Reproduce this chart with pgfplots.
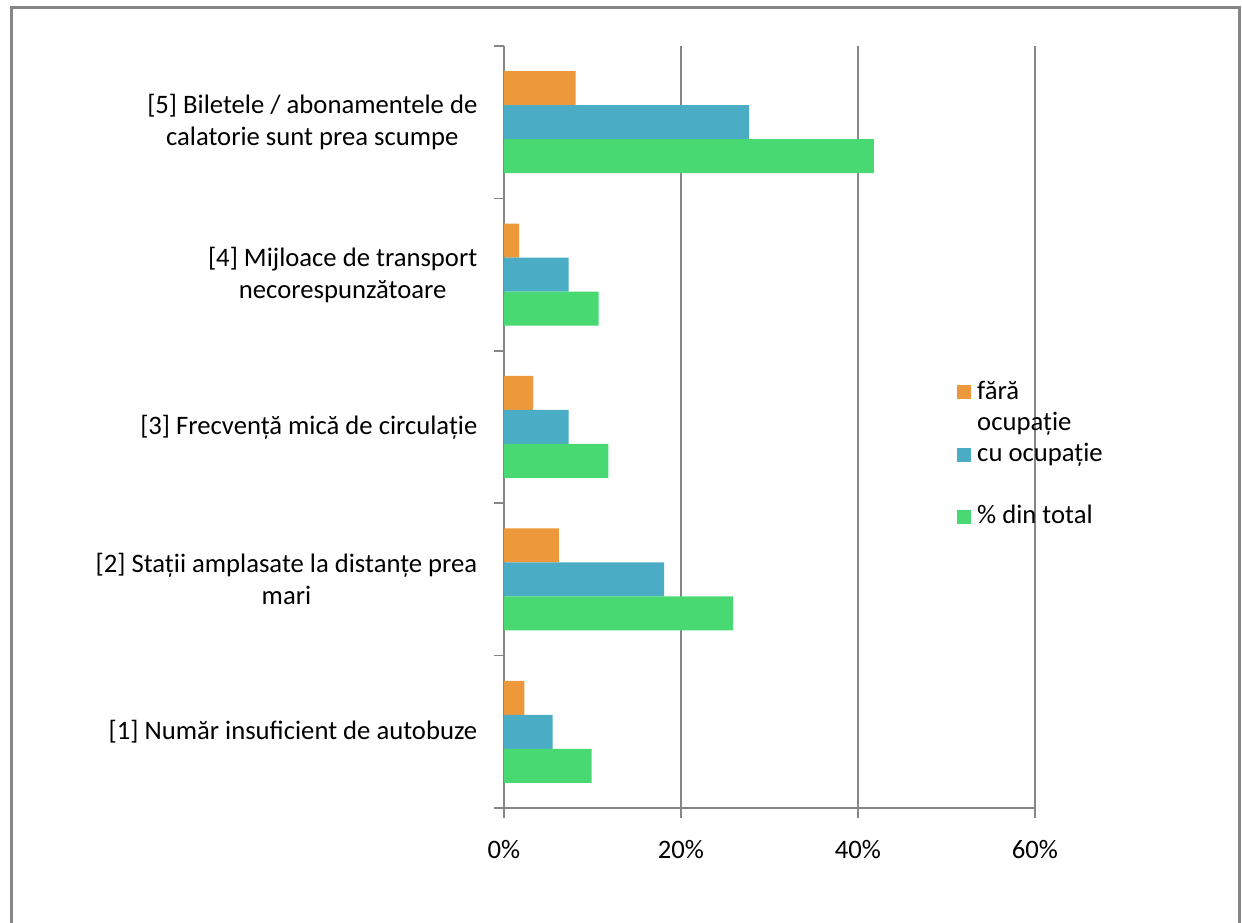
\documentclass[border=0pt]{standalone}
\usepackage{pgfplots}
\pgfplotsset{compat=1.18}
\usepackage{pgfplotstable}
\usepackage{fontspec}
\setmainfont{Carlito}
\definecolor{cOr}{RGB}{237,152,58}
\definecolor{cBl}{RGB}{75,172,198}
\definecolor{cGr}{RGB}{72,217,115}
\definecolor{axgray}{RGB}{134,134,134}
\newcommand{\ff}{\fontsize{20}{24}\selectfont}
\pgfplotstableread{
cat fara cu total
1 2.3 5.5 9.9
2 6.2 18.1 25.9
3 3.3 7.3 11.8
4 1.7 7.3 10.7
5 8.1 27.7 41.8
}\data
\begin{document}
\begin{tikzpicture}
\useasboundingbox (0,0) rectangle (931.5pt,692.25pt);
\draw[color=axgray, line width=2.25pt] (8.25pt,-10pt) -- (8.25pt,686.25pt) -- (929.25pt,686.25pt) -- (929.25pt,-10pt);
\begin{axis}[at={(378pt,86.25pt)}, anchor=south west, scale only axis,
  width=398.25pt, height=571.5pt,
  xmin=0, xmax=60, ymin=0.5, ymax=5.5,
  axis x line*=bottom, axis y line*=left,
  axis line style={axgray, line width=1.1pt, -},
  xtick={0,20,40,60}, xticklabels={0\%,20\%,40\%,60\%},
  xmajorgrids, grid style={axgray, line width=1.1pt},
  tick align=outside, major tick length=7.5pt,
  xtick style={axgray, line width=1.1pt},
  ytick={1,2,3,4,5},
  yticklabels={{[1] Număr insuficient de autobuze},
               {[2] Stații amplasate la distanțe prea\\mari},
               {[3] Frecvență mică de circulație},
               {[4] Mijloace de transport\\necorespunzătoare},
               {[5] Biletele / abonamentele de\\calatorie sunt prea scumpe}},
  ytick style={draw=none},
  extra y ticks={0.5,1.5,2.5,3.5,4.5,5.5}, extra y tick labels={},
  extra y tick style={grid=none, ytick style={draw=axgray, line width=1.1pt}},
  tick label style={font=\ff},
  yticklabel style={align=center, xshift=-9pt},
  xticklabel style={yshift=-13pt},
  xbar, bar width=25.5pt,
  legend image code/.code={\fill[#1, draw=none] (0pt,23.2pt) rectangle (10.5pt,33.7pt);
    \path (13pt,23.5pt);},
  legend style={at={(axis description cs:0.845,0.568)}, anchor=north west,
    draw=none, fill=none, font={\fontsize{20}{23.5}\selectfont}, row sep=4pt,
    cells={anchor=base west, align=left},
    /tikz/every even column/.append style={column sep=4pt}},
]
\addplot[fill=cOr, draw=none, bar shift=25.5pt, forget plot] table[x=fara, y=cat]{\data};
\addplot[fill=cBl, draw=none, bar shift=0pt, forget plot] table[x=cu, y=cat]{\data};
\addplot[fill=cGr, draw=none, bar shift=-25.5pt, forget plot] table[x=total, y=cat]{\data};
\addlegendimage{fill=cOr}
\addlegendentry{fără\\ocupație}
\addlegendimage{fill=cBl}
\addlegendentry{cu ocupație\\~}
\addlegendimage{fill=cGr}
\addlegendentry{\% din total\\~}
\end{axis}
\end{tikzpicture}
\end{document}
